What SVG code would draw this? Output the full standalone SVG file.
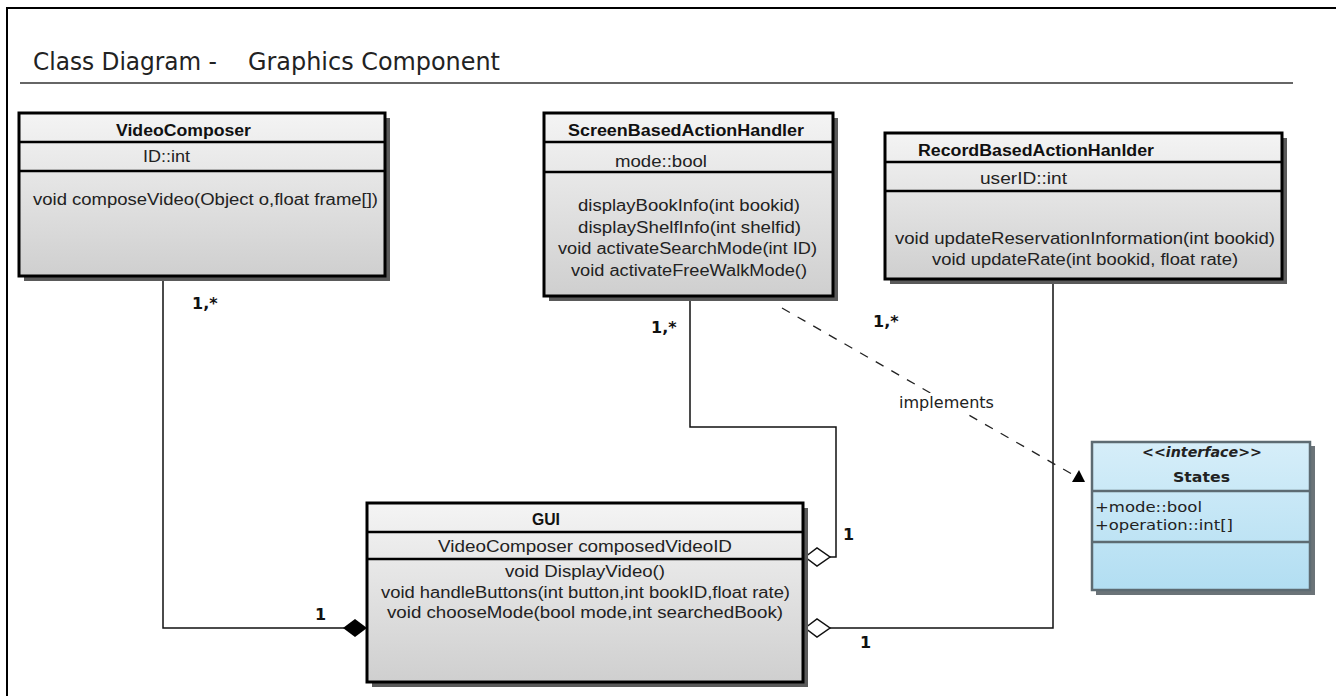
<svg xmlns="http://www.w3.org/2000/svg" width="1336" height="696" viewBox="0 0 1336 696">
<defs>
<linearGradient id="gray" x1="0" y1="0" x2="0" y2="1">
<stop offset="0" stop-color="#f4f4f4"/>
<stop offset="1" stop-color="#cfcfcf"/>
</linearGradient>
<linearGradient id="blue" x1="0" y1="0" x2="0" y2="1">
<stop offset="0" stop-color="#d6eef9"/>
<stop offset="1" stop-color="#b2def2"/>
</linearGradient>
<marker id="tri" markerWidth="16" markerHeight="16" refX="13" refY="12" orient="0" markerUnits="userSpaceOnUse">
<polygon points="1,13 14,13 8,1" fill="#000"/>
</marker>
</defs>
<style>
.shadow{fill:#5a5a5a}
.box{fill:url(#gray);stroke:#000;stroke-width:3}
.div{stroke:#000;stroke-width:2.5}
.t{font-family:"Liberation Sans",Arial,sans-serif;font-size:16px;fill:#222}
.b{font-family:"Liberation Sans",Arial,sans-serif;font-size:16px;font-weight:bold;fill:#111}
.m{font-family:"DejaVu Sans",sans-serif;font-size:16px;font-weight:bold;fill:#111}
.d{font-family:"DejaVu Sans",sans-serif;fill:#222}
.ln{fill:none;stroke:#111;stroke-width:1.5}
</style>
<rect width="1336" height="696" fill="#fff"/>
<path d="M7,700 V8 H1340" fill="none" stroke="#000" stroke-width="2"/>
<text class="d" x="33" y="70" font-size="24" fill="#111" textLength="184" lengthAdjust="spacingAndGlyphs">Class Diagram -</text>
<text class="d" x="248" y="70" font-size="24" fill="#111" textLength="252" lengthAdjust="spacingAndGlyphs">Graphics Component</text>
<line x1="20" y1="83" x2="1293" y2="83" stroke="#666" stroke-width="2"/>

<g id="connectors">
<polyline class="ln" points="163,277 163,628 344,628"/>
<polygon points="343,628 355,619 367,628 355,637" fill="#000"/>
<polyline class="ln" points="690,297 690,427 836,427 836,557 830,557"/>
<polygon points="805,557 817,548 830,557 817,566" fill="#fff" stroke="#111" stroke-width="1.5"/>
<polyline class="ln" points="1053,280 1053,628 830,628"/>
<polygon points="805,628 817,619 830,628 817,637" fill="#fff" stroke="#111" stroke-width="1.5"/>
<line x1="782" y1="308" x2="1084" y2="481" stroke="#222" stroke-width="1.3" stroke-dasharray="9,9" marker-end="url(#tri)"/>
<rect x="897" y="393" width="99" height="20" fill="#fff"/>
<text class="d" x="899" y="408" font-size="15" textLength="95" lengthAdjust="spacingAndGlyphs">implements</text>
<text class="m" x="192" y="309">1,*</text>
<text class="m" x="315" y="620">1</text>
<text class="m" x="651" y="333">1,*</text>
<text class="m" x="843" y="540">1</text>
<text class="m" x="873" y="327">1,*</text>
<text class="m" x="860" y="648">1</text>
</g>

<g id="VideoComposer">
<rect class="shadow" x="24" y="118" width="366" height="163"/>
<rect class="box" x="19" y="113" width="366" height="163"/>
<line class="div" x1="19" y1="142" x2="385" y2="142"/>
<line class="div" x1="19" y1="171" x2="385" y2="171"/>
<text class="b" x="116" y="136" textLength="135" lengthAdjust="spacingAndGlyphs">VideoComposer</text>
<text class="t" x="143" y="162" textLength="47" lengthAdjust="spacingAndGlyphs">ID::int</text>
<text class="t" x="33" y="205" textLength="345" lengthAdjust="spacingAndGlyphs">void composeVideo(Object o,float frame[])</text>
</g>

<g id="ScreenBasedActionHandler">
<rect class="shadow" x="549" y="118" width="289" height="183"/>
<rect class="box" x="544" y="113" width="289" height="183"/>
<line class="div" x1="544" y1="142" x2="833" y2="142"/>
<line class="div" x1="544" y1="172" x2="833" y2="172"/>
<text class="b" x="568" y="136" textLength="236" lengthAdjust="spacingAndGlyphs">ScreenBasedActionHandler</text>
<text class="t" x="615" y="167" textLength="92" lengthAdjust="spacingAndGlyphs">mode::bool</text>
<text class="t" x="578" y="211" textLength="222" lengthAdjust="spacingAndGlyphs">displayBookInfo(int bookid)</text>
<text class="t" x="578" y="233" textLength="223" lengthAdjust="spacingAndGlyphs">displayShelfInfo(int shelfid)</text>
<text class="t" x="558" y="254" textLength="259" lengthAdjust="spacingAndGlyphs">void activateSearchMode(int ID)</text>
<text class="t" x="571" y="276" textLength="236" lengthAdjust="spacingAndGlyphs">void activateFreeWalkMode()</text>
</g>

<g id="RecordBasedActionHanlder">
<rect class="shadow" x="890" y="138" width="397" height="146"/>
<rect class="box" x="885" y="133" width="397" height="146"/>
<line class="div" x1="885" y1="162" x2="1282" y2="162"/>
<line class="div" x1="885" y1="191" x2="1282" y2="191"/>
<text class="b" x="918" y="156" textLength="236" lengthAdjust="spacingAndGlyphs">RecordBasedActionHanlder</text>
<text class="t" x="980" y="184" textLength="87" lengthAdjust="spacingAndGlyphs">userID::int</text>
<text class="t" x="895" y="244" textLength="380" lengthAdjust="spacingAndGlyphs">void updateReservationInformation(int bookid)</text>
<text class="t" x="932" y="265" textLength="306" lengthAdjust="spacingAndGlyphs">void updateRate(int bookid, float rate)</text>
</g>

<g id="GUI">
<rect class="shadow" x="372" y="508" width="436" height="179"/>
<rect class="box" x="367" y="503" width="436" height="179"/>
<line class="div" x1="367" y1="532" x2="803" y2="532"/>
<line class="div" x1="367" y1="559" x2="803" y2="559"/>
<text class="b" x="532" y="525" textLength="28" lengthAdjust="spacingAndGlyphs">GUI</text>
<text class="t" x="438" y="552" textLength="294" lengthAdjust="spacingAndGlyphs">VideoComposer composedVideoID</text>
<text class="t" x="505" y="577" textLength="160" lengthAdjust="spacingAndGlyphs">void DisplayVideo()</text>
<text class="t" x="381" y="598" textLength="409" lengthAdjust="spacingAndGlyphs">void handleButtons(int button,int bookID,float rate)</text>
<text class="t" x="387" y="618" textLength="396" lengthAdjust="spacingAndGlyphs">void chooseMode(bool mode,int searchedBook)</text>
</g>

<g id="States">
<rect x="1096" y="446" width="219" height="149" fill="#6b7378"/>
<rect x="1092" y="442" width="218" height="148" fill="url(#blue)" stroke="#5d6b72" stroke-width="2.5"/>
<line x1="1092" y1="491" x2="1310" y2="491" stroke="#5d6b72" stroke-width="2.5"/>
<line x1="1092" y1="542" x2="1310" y2="542" stroke="#5d6b72" stroke-width="2.5"/>
<text class="d" x="1142" y="457" font-size="14" font-style="italic" font-weight="bold" textLength="120" lengthAdjust="spacingAndGlyphs">&lt;&lt;interface&gt;&gt;</text>
<text class="d" x="1173" y="482" font-size="14" font-weight="bold" textLength="57" lengthAdjust="spacingAndGlyphs">States</text>
<text class="d" x="1095" y="512" font-size="14" textLength="107" lengthAdjust="spacingAndGlyphs">+mode::bool</text>
<text class="d" x="1095" y="530" font-size="14" textLength="138" lengthAdjust="spacingAndGlyphs">+operation::int[]</text>
</g>
</svg>
